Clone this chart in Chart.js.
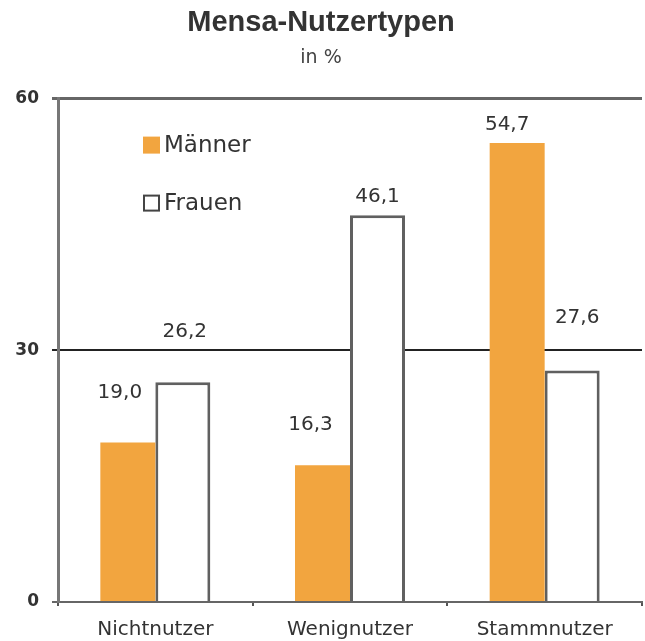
<!DOCTYPE html>
<html lang="de">
<head>
<meta charset="utf-8">
<title>Mensa-Nutzertypen</title>
<script src="https://cdn.jsdelivr.net/npm/chart.js@4/dist/chart.umd.min.js"></script>
<style>
    html, body { margin: 0; padding: 0; background: #fff; }
    #wrap { position: relative; width: 645px; height: 641px; }
</style>
</head>
<body>
<div id="wrap"><canvas id="mensa-chart"></canvas></div>
<script>
    // start: data
    const categories = ['Nichtnutzer', 'Wenignutzer', 'Stammnutzer'];
    const maenner = [19.0, 16.3, 54.7];
    const frauen = [26.2, 46.1, 27.6];
    const yTicks = [0, 30, 60];
    // end: data

    // value labels sit a little off the bars: [dx, dy] per bar
    const labelShift = [
        [[-8, 50], [-12, 40], [-10, 18]],
        [[2, 50], [0, 18], [5, 53]]
    ];

    const fmt = v => v.toFixed(1).replace('.', ',');

    const valueLabels = {
        id: 'valueLabels',
        afterDatasetsDraw(chart) {
            const ctx = chart.ctx;
            ctx.save();
            ctx.font = '20px "DejaVu Sans"';
            ctx.fillStyle = '#333';
            ctx.textAlign = 'center';
            ctx.textBaseline = 'middle';
            chart.data.datasets.forEach((ds, i) => {
                chart.getDatasetMeta(i).data.forEach((bar, j) => {
                    const s = labelShift[i][j];
                    ctx.fillText(fmt(ds.data[j]), bar.x + s[0], bar.y - s[1]);
                });
            });
            ctx.restore();
        }
    };

    // legend drawn inside the plot, top left
    const innerLegend = {
        id: 'innerLegend',
        afterDraw(chart) {
            const ctx = chart.ctx;
            const area = chart.chartArea;
            ctx.save();
            ctx.font = '23px "DejaVu Sans"';
            ctx.textBaseline = 'middle';
            chart.data.datasets.forEach((ds, i) => {
                const x = area.left + 85;
                const y = area.top + 38 + i * 58;
                ctx.fillStyle = ds.backgroundColor;
                ctx.fillRect(x, y, 17, 17);
                if (ds.borderWidth) {
                    ctx.strokeStyle = '#444';
                    ctx.lineWidth = 2;
                    ctx.strokeRect(x + 1, y + 1, 15, 15);
                }
                ctx.fillStyle = '#333';
                ctx.fillText(ds.label, x + 21, y + 9);
            });
            ctx.restore();
        }
    };

    const mensaChart = new Chart(document.getElementById('mensa-chart'), {
        type: 'bar',
        data: {
            labels: categories,
            datasets: [{
                label: 'Männer',
                data: maenner,
                backgroundColor: '#F2A53F',
                borderWidth: 0
            }, {
                label: 'Frauen',
                data: frauen,
                backgroundColor: '#ffffff',
                borderColor: '#606060',
                borderWidth: 3
            }]
        },
        options: {
            responsive: true,
            maintainAspectRatio: false,
            animation: false,
            events: [],
            layout: { padding: { left: 0, right: 3, top: 0, bottom: 0 } },
            datasets: {
                bar: { categoryPercentage: 0.565, barPercentage: 1.0 }
            },
            plugins: {
                legend: { display: false },
                tooltip: { enabled: false },
                title: {
                    display: true,
                    text: 'Mensa-Nutzertypen',
                    color: '#333',
                    font: { family: '"Liberation Sans"', size: 29, weight: 'bold' },
                    padding: { top: 6, bottom: 6 }
                },
                subtitle: {
                    display: true,
                    text: 'in %',
                    color: '#444',
                    font: { family: '"DejaVu Sans"', size: 19 },
                    padding: { top: 0, bottom: 29 }
                }
            },
            scales: {
                x: {
                    afterFit(scale) { scale.height = 39 },
                    border: { display: true, color: '#666', width: 2 },
                    grid: {
                        drawOnChartArea: false,
                        drawTicks: true,
                        tickLength: 4,
                        color: '#555',
                        lineWidth: 2
                    },
                    ticks: {
                        color: '#333',
                        padding: 12,
                        font: { family: '"DejaVu Sans"', size: 20 }
                    }
                },
                y: {
                    min: 0,
                    max: 60,
                    afterFit(scale) { scale.width = 58 },
                    afterBuildTicks(scale) {
                        scale.ticks = yTicks.map(v => ({ value: v }))
                    },
                    border: { display: true, color: '#777', width: 3 },
                    grid: {
                        drawTicks: true,
                        tickLength: 6,
                        color: ctx => ctx.tick && ctx.tick.value === 30 ? '#222' : '#666',
                        lineWidth: ctx => ctx.tick && ctx.tick.value === 60 ? 3 : 2
                    },
                    ticks: {
                        color: '#333',
                        padding: 13,
                        font: { family: '"DejaVu Sans"', size: 17, weight: 'bold' }
                    }
                }
            }
        },
        plugins: [valueLabels, innerLegend]
    });
</script>
</body>
</html>
